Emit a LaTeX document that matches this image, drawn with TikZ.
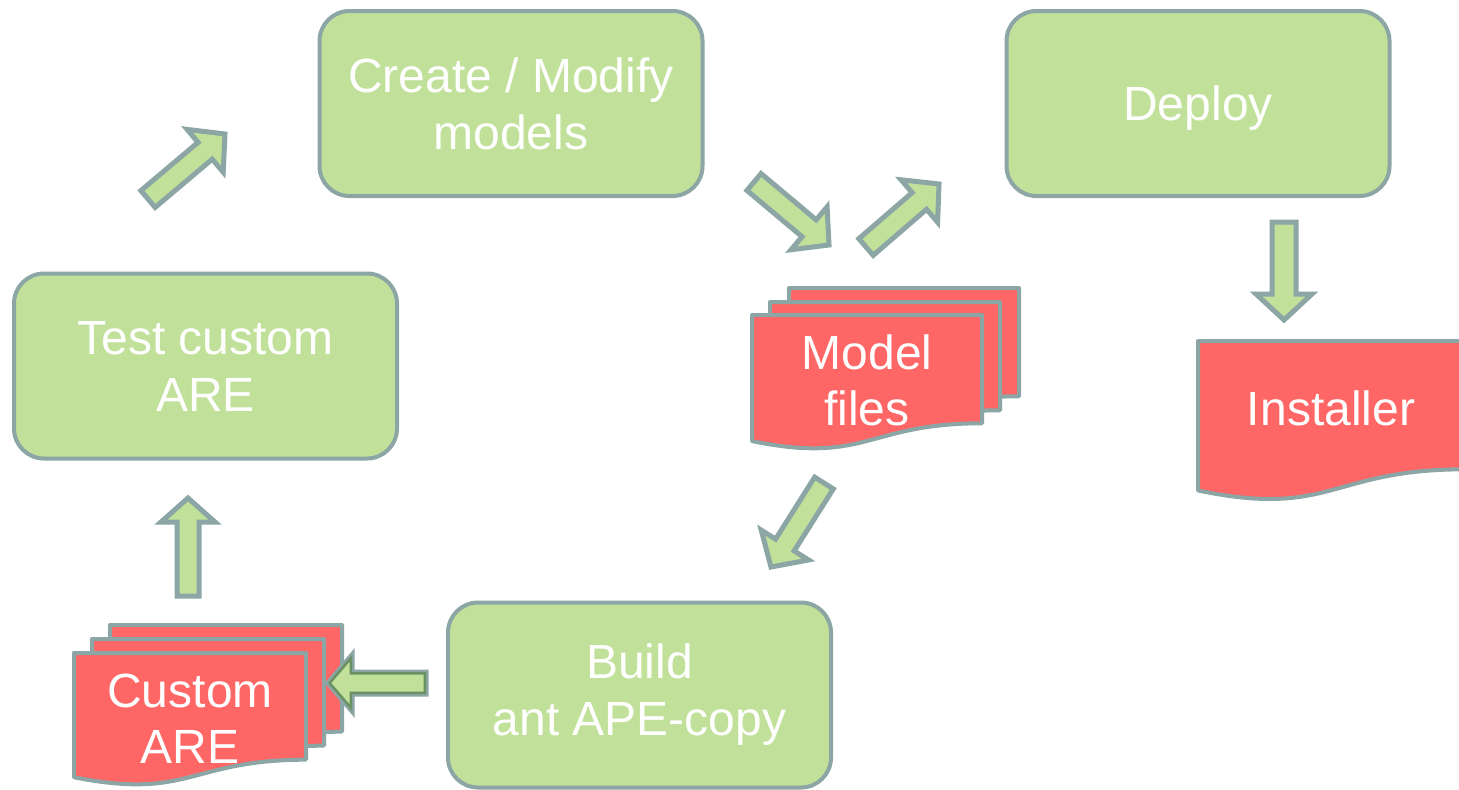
\documentclass[tikz,border=0pt]{standalone}
\usepackage{fontspec}
\setmainfont{Liberation Sans}
\usetikzlibrary{calc}
\definecolor{boxgreen}{HTML}{C1E19A}
\definecolor{edgegray}{HTML}{8CA5A5}
\definecolor{docred}{HTML}{FF6666}
\tikzset{
  procbox/.style={draw=edgegray, line width=2pt, fill=boxgreen, rounded corners=15pt,
    minimum width=191.5pt, minimum height=92.5pt, text=white,
    font=\fontsize{24}{28.5}\selectfont, align=center, inner sep=0pt},
  docsheet/.style={draw=edgegray, line width=2pt, fill=docred, line join=round},
  doclabel/.style={text=white, font=\fontsize{24}{28}\selectfont, align=center, inner sep=0pt},
  blockarr/.style={draw=edgegray, line width=2.5pt, fill=boxgreen},
}
% x, y (top-left), width, height
\newcommand\docshape[4]{%
  \draw[docsheet] (#1,#2) -- ({#1+#3},#2) -- ({#1+#3},{#2+0.802*#4})
    .. controls ({#1+0.5*#3},{#2+0.802*#4}) and ({#1+0.5*#3},{#2+1.1075*#4})
    .. (#1,{#2+0.934*#4}) -- cycle;}
% [options] tail, tip, half shaft, half head, head length
\newcommand\blockarrow[6][]{%
  \coordinate (neck) at ($(#3)!#6!(#2)$);
  \draw[blockarr,#1] ($(#2)!#4!90:(#3)$) -- ($(neck)!#4!90:(#3)$)
    -- ($(neck)!#5!90:(#3)$) -- (#3) -- ($(neck)!#5!-90:(#3)$)
    -- ($(neck)!#4!-90:(#3)$) -- ($(#2)!#4!-90:(#3)$) -- cycle;}
\begin{document}
\begin{tikzpicture}[x=0.5pt,y=-0.5pt]
\useasboundingbox (0,0) rectangle (1459,789);

% process boxes
\node[procbox] (create) at (511,103.5) {Create / Modify\\models};
\node[procbox, text depth=0pt] (deploy) at (1198,103.5) {Deploy};
\node[procbox] (test) at (205.5,366) {Test custom\\ARE};
\node[procbox] (build) at (639.5,695) {Build\\ant APE-copy};

% model files (stack of documents)
\docshape{789}{288}{230}{135}
\docshape{770}{302}{230}{135}
\docshape{752}{315}{230}{135}
\node[doclabel] (model) at (867,380) {Model\\files};

% custom ARE (stack of documents)
\docshape{110}{625}{232}{133}
\docshape{92}{639}{232}{133}
\docshape{74}{653}{232}{133}
\node[doclabel] (custom) at (190,719) {Custom\\ARE};

% installer document
\docshape{1198}{341}{266}{160}
\node[doclabel] (installer) at (1331,408) {Installer};

% block arrows
\coordinate (a1t) at (148,199); \coordinate (a1h) at (225,134);
\coordinate (a2t) at (754,182); \coordinate (a2h) at (829,245);
\coordinate (a3t) at (866,247); \coordinate (a3h) at (939,184);
\coordinate (a4t) at (1284,222); \coordinate (a4h) at (1284,320);
\coordinate (a5t) at (824,483); \coordinate (a5h) at (771,567);
\coordinate (a6t) at (426,683); \coordinate (a6h) at (328,683);
\coordinate (a7t) at (188,596); \coordinate (a7h) at (188,498);

\blockarrow{a1t}{a1h}{5.5pt}{14pt}{13pt}
\blockarrow{a2t}{a2h}{5.5pt}{14pt}{13pt}
\blockarrow{a3t}{a3h}{5.5pt}{14pt}{13pt}
\blockarrow{a4t}{a4h}{6pt}{14pt}{13pt}
\blockarrow{a5t}{a5h}{5.5pt}{14pt}{13pt}
\begin{scope}[blend group=multiply]
\blockarrow{a6t}{a6h}{5.5pt}{14pt}{12pt}
\end{scope}
\blockarrow{a7t}{a7h}{5.5pt}{13.5pt}{12pt}
\end{tikzpicture}
\end{document}
